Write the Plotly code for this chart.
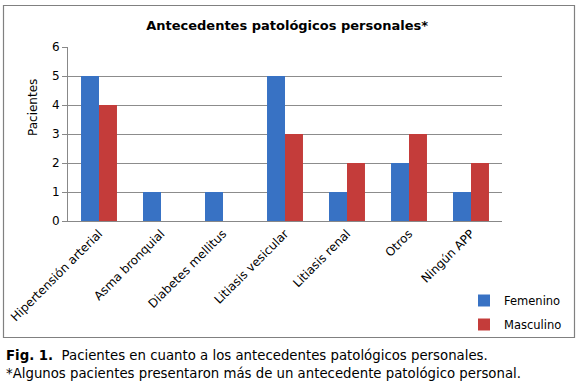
import plotly.graph_objects as go

categories = ["Hipertensión arterial", "Asma bronquial", "Diabetes mellitus",
              "Litiasis vesicular", "Litiasis renal", "Otros", "Ningún APP"]
femenino = [5, 1, 1, 5, 1, 2, 1]
masculino = [4, 0, 0, 3, 2, 3, 2]
y_ticks = [0, 1, 2, 3, 4, 5, 6]

FONT = "Verdana, DejaVu Sans, sans-serif"
BLUE = "#3872C4"
RED = "#C43C3A"
BORDER = "#808080"

W, H = 580, 381

def px(x):
    return x / W

def py(y):
    return 1 - y / H

fig = go.Figure()
fig.add_trace(go.Bar(x=categories, y=femenino, name="Femenino",
                     marker=dict(color=BLUE, line=dict(width=0)), legendgroup="f"))
fig.add_trace(go.Bar(x=categories, y=masculino, name="Masculino",
                     marker=dict(color=RED, line=dict(width=0)), legendgroup="m"))

fig.update_layout(
    width=W, height=H,
    margin=dict(l=0, r=0, t=0, b=0, autoexpand=False),
    paper_bgcolor="white", plot_bgcolor="rgba(0,0,0,0)",
    font=dict(family=FONT, size=12, color="#000"),
    barmode="group", bargap=0.42, bargroupgap=0,
    title=dict(text="<b>Antecedentes patológicos personales*</b>",
               x=0.495, xanchor="center", xref="container",
               y=1 - 25 / H, yanchor="middle", yref="container",
               font=dict(family=FONT, size=13, color="#000")),
    showlegend=True,
    legend=dict(x=px(464), y=py(286), xanchor="left", yanchor="top",
                font=dict(family=FONT, size=11.5), traceorder="grouped",
                tracegroupgap=5, itemwidth=30, bgcolor="rgba(0,0,0,0)"),
    xaxis=dict(domain=[px(68), px(502)], anchor="y",
               tickangle=-45, tickfont=dict(family=FONT, size=12),
               showline=True, linecolor="#888", linewidth=1, automargin=False,
               ticks="", showgrid=False),
    yaxis=dict(domain=[py(221), py(47)], anchor="x",
               range=[0, 6], tickvals=y_ticks, ticks="outside", ticklen=5,
               tickcolor="#888", showline=True, linecolor="#888", linewidth=1,
               showgrid=True, gridcolor="#8C8C8C", gridwidth=1, automargin=False,
               tickfont=dict(family=FONT, size=12), zeroline=False),
)

# outer chart frame
fig.add_shape(type="rect", xref="paper", yref="paper",
              x0=px(3.5), x1=px(574.5), y0=py(337.5), y1=py(5.5),
              line=dict(color=BORDER, width=1.2), fillcolor="rgba(0,0,0,0)", layer="above")

fig.add_annotation(xref="paper", yref="paper", x=px(33), y=py(108), xanchor="center", yanchor="middle",
                   showarrow=False, textangle=-90, text="Pacientes",
                   font=dict(family=FONT, size=12, color="#000"))

fig.add_annotation(xref="paper", yref="paper", x=px(4), y=py(355), xanchor="left", yanchor="middle",
                   showarrow=False, align="left",
                   text="<b>Fig. 1.</b>  Pacientes en cuanto a los antecedentes patológicos personales.",
                   font=dict(family=FONT, size=13.3, color="#000"))
fig.add_annotation(xref="paper", yref="paper", x=px(4), y=py(373), xanchor="left", yanchor="middle",
                   showarrow=False, align="left",
                   text="*Algunos pacientes presentaron más de un antecedente patológico personal.",
                   font=dict(family=FONT, size=13.3, color="#000"))

fig.write_html("out.html", config={"displayModeBar": False, "responsive": False},
               post_script="document.body.style.margin='0';")
